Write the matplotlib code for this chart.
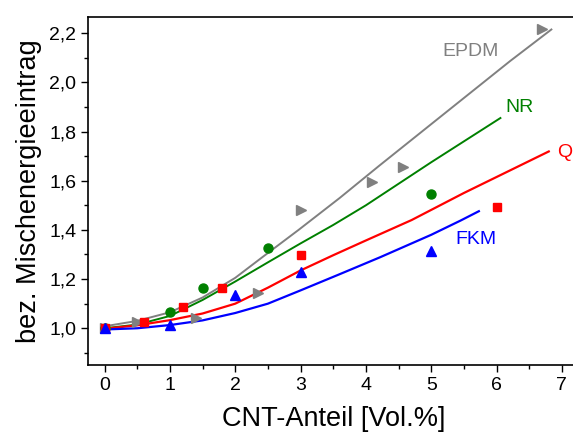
import numpy as np
import matplotlib
matplotlib.use('Agg')
import matplotlib.pyplot as plt
from matplotlib.ticker import MultipleLocator, FuncFormatter

plt.rcParams['font.family'] = ['Liberation Sans', 'DejaVu Sans']

# measured points
epdm_x = [0, 0.5, 1.4, 2.35, 3.0, 4.1, 4.57, 6.7]
epdm_y = [1.0, 1.026, 1.04, 1.145, 1.479, 1.594, 1.657, 2.217]
nr_x = [0, 1.0, 1.5, 2.5, 5.0]
nr_y = [1.0, 1.066, 1.165, 1.327, 1.546]
q_x = [0, 0.6, 1.2, 1.8, 3.0, 6.0]
q_y = [1.0, 1.026, 1.086, 1.165, 1.296, 1.492]
fkm_x = [0, 1.0, 2.0, 3.0, 5.0]
fkm_y = [1.0, 1.012, 1.134, 1.228, 1.316]

# fitted curves
epdm_lx = [0, 0.5, 1.0, 1.5, 2.0, 2.43, 2.97, 3.6, 4.2, 5.0, 6.21, 6.84]
epdm_ly = [1.008, 1.03, 1.065, 1.125, 1.205, 1.292, 1.40, 1.53, 1.66, 1.83, 2.087, 2.215]
nr_lx = [0, 0.5, 1.0, 1.5, 2.0, 2.5, 3.0, 3.5, 4.0, 5.0, 6.06]
nr_ly = [1.0, 1.015, 1.05, 1.115, 1.19, 1.268, 1.345, 1.42, 1.50, 1.675, 1.855]
q_lx = [0, 0.5, 1.0, 1.5, 2.0, 2.5, 3.0, 3.5, 4.0, 4.7, 5.5, 6.8]
q_ly = [0.998, 1.012, 1.033, 1.06, 1.10, 1.165, 1.235, 1.297, 1.357, 1.44, 1.55, 1.719]
fkm_lx = [0, 0.5, 1.0, 1.5, 2.0, 2.5, 3.0, 3.6, 4.22, 5.0, 5.45, 5.73]
fkm_ly = [0.995, 1.0, 1.013, 1.032, 1.062, 1.10, 1.154, 1.22, 1.289, 1.38, 1.438, 1.476]

fig = plt.figure(figsize=(5.73, 4.41), dpi=100)
ax = fig.add_axes([0.154, 0.172, 0.855, 0.789])

ax.plot(epdm_lx, epdm_ly, color='#808080', lw=1.4)
ax.plot(nr_lx, nr_ly, color='#008000', lw=1.4)
ax.plot(q_lx, q_ly, color='#ff0000', lw=1.6)
ax.plot(fkm_lx, fkm_ly, color='#0000ff', lw=1.6)

ax.plot(epdm_x, epdm_y, ls='none', marker='>', ms=7, color='#808080')
ax.plot(nr_x, nr_y, ls='none', marker='o', ms=6.5, color='#008000')
ax.plot(q_x, q_y, ls='none', marker='s', ms=6, color='#ff0000')
ax.plot(fkm_x, fkm_y, ls='none', marker='^', ms=7, color='#0000ff')

ax.text(5.17, 2.124, 'EPDM', color='#808080', fontsize=14, ha='left', va='center')
ax.text(6.13, 1.897, 'NR', color='#008000', fontsize=14, ha='left', va='center')
ax.text(6.93, 1.714, 'Q', color='#ff0000', fontsize=14, ha='left', va='center')
ax.text(5.37, 1.361, 'FKM', color='#0000ff', fontsize=14, ha='left', va='center')

ax.set_xlim(-0.25, 7.25)
ax.set_ylim(0.85, 2.265)
ax.xaxis.set_major_locator(MultipleLocator(1))
ax.xaxis.set_minor_locator(MultipleLocator(0.5))
ax.yaxis.set_major_locator(MultipleLocator(0.2))
ax.yaxis.set_minor_locator(MultipleLocator(0.1))
ax.yaxis.set_major_formatter(FuncFormatter(lambda v, p: ('%.1f' % v).replace('.', ',')))
ax.tick_params(which='major', direction='out', length=5, width=1, labelsize=14)
ax.tick_params(which='minor', direction='out', length=3, width=1)
for s in ax.spines.values():
    s.set_linewidth(1.2)
ax.spines['right'].set_visible(False)

ax.set_xlabel('CNT-Anteil [Vol.%]', fontsize=19.5, labelpad=9)
ax.set_ylabel('bez. Mischenergieeintrag', fontsize=19.5, labelpad=5)

fig.savefig('out.png', dpi=100)
